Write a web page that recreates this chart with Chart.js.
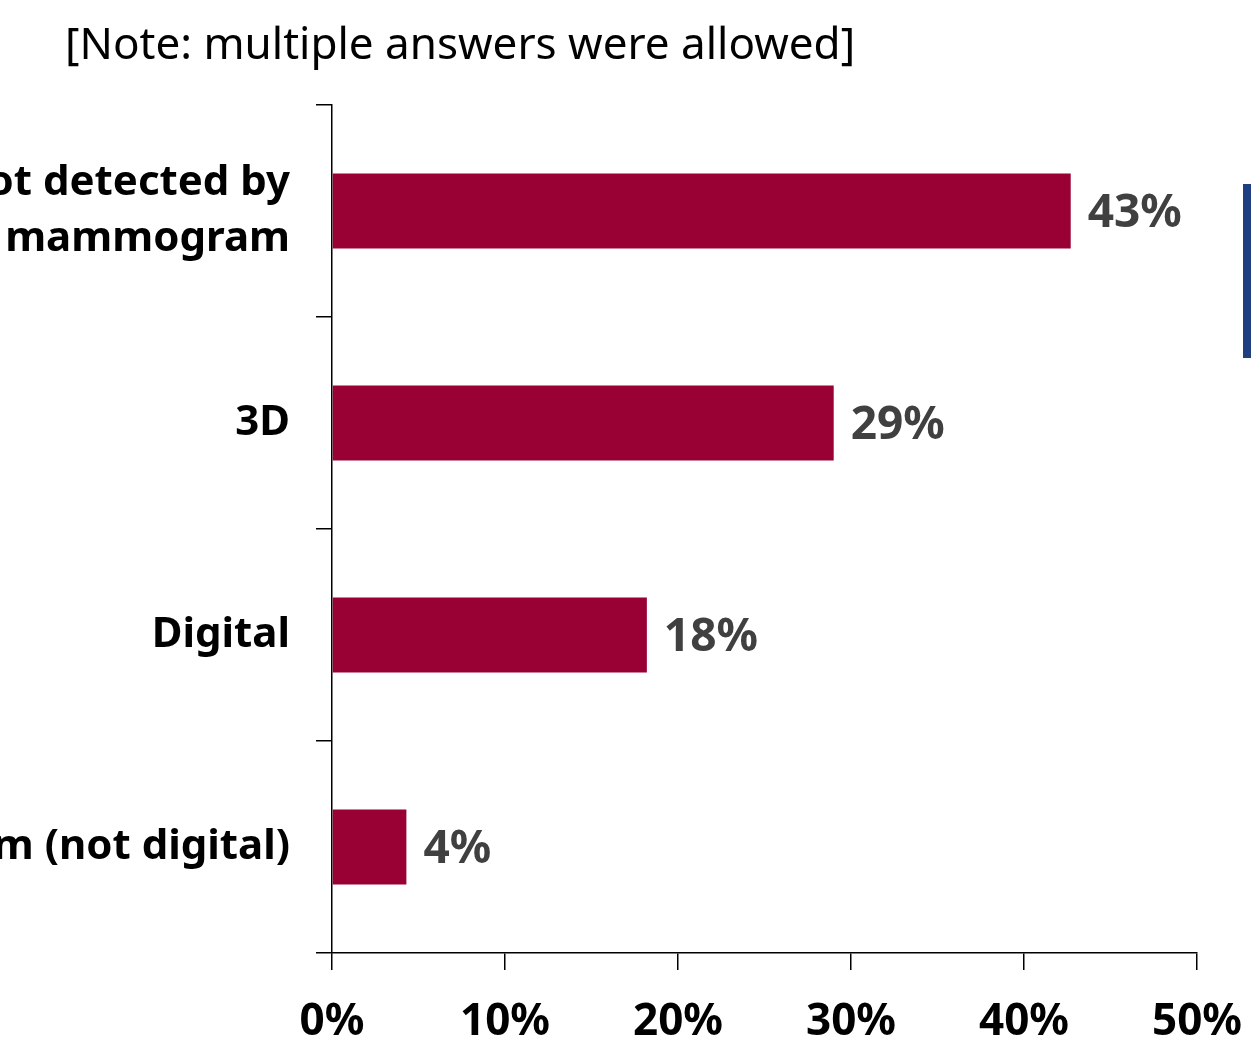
<!DOCTYPE html>
<html>
<head>
<meta charset="utf-8">
<script src="https://cdn.jsdelivr.net/npm/chart.js@4.4.1/dist/chart.umd.min.js"></script>
<style>
  html, body { margin: 0; padding: 0; background: #fff; }
  #wrap { position: relative; width: 1251px; height: 1041px; overflow: hidden; }
  #note { position: absolute; left: 65px; top: 12px; font-family: "Noto Sans", sans-serif; font-size: 44px; color: #000; white-space: nowrap; }
  #side { position: absolute; left: 1243px; top: 184px; width: 8px; height: 174px; background: #1f3f80; }
</style>
</head>
<body>
<div id="wrap">
  <div id="note">[Note: multiple answers were allowed]</div>
  <div id="side"></div>
  <canvas id="chart" width="1251" height="1041"></canvas>
</div>
<script>
// values (percent)
var categories = [["ot detected by", "mammogram"], "3D", "Digital", "m (not digital)"];
var values = [42.7, 29.0, 18.2, 4.3];
var tickLabels = ["0%", "10%", "20%", "30%", "40%", "50%"];

var barColor = "#990033";

// draws "43%" etc. at the end of each bar
var barLabels = {
    id: "barLabels",
    afterDatasetsDraw: function(chart) {
        var ctx = chart.ctx;
        var meta = chart.getDatasetMeta(0);
        ctx.save();
        ctx.font = "bold 46px 'Noto Sans'";
        ctx.fillStyle = "#404040";
        ctx.textAlign = "left";
        ctx.textBaseline = "middle";
        meta.data.forEach(function(bar, i) {
            ctx.fillText(Math.round(values[i]) + "%", bar.x + 17, bar.y + 3);
        });
        ctx.restore();
    }
};

new Chart(document.getElementById("chart"), {
    type: "bar",
    data: {
        labels: categories,
        datasets: [{ data: values, backgroundColor: barColor, categoryPercentage: 1, barPercentage: 0.354 }]
    },
    options: {
        indexAxis: "y",
        responsive: false,
        animation: false,
        layout: { padding: { top: 105, right: 54, left: 0, bottom: 0 } },
        plugins: { legend: { display: false }, tooltip: { enabled: false } },
        scales: {
            x: {
                min: 0, max: 50,
                afterFit: function(s) { s.height = 88; s.paddingRight = 0; s.paddingLeft = 0; },
                border: { color: "#000", width: 1.5 },
                grid: { drawOnChartArea: false, drawTicks: true, tickLength: 17, color: "#000", lineWidth: 1.5 },
                ticks: {
                    stepSize: 10, padding: 26, color: "#000",
                    font: { family: "Noto Sans", size: 44, weight: "bold" },
                    callback: function(v, i) { return tickLabels[i]; }
                }
            },
            y: {
                afterFit: function(s) { s.width = 332; },
                border: { color: "#000", width: 1.5 },
                grid: { drawOnChartArea: false, drawTicks: true, tickLength: 16, color: "#000", lineWidth: 1.5 },
                ticks: {
                    padding: 26, color: "#000",
                    font: { family: "Noto Sans", size: 42, weight: "bold", lineHeight: 1.35 }
                }
            }
        }
    },
    plugins: [barLabels]
});
</script>
</body>
</html>
